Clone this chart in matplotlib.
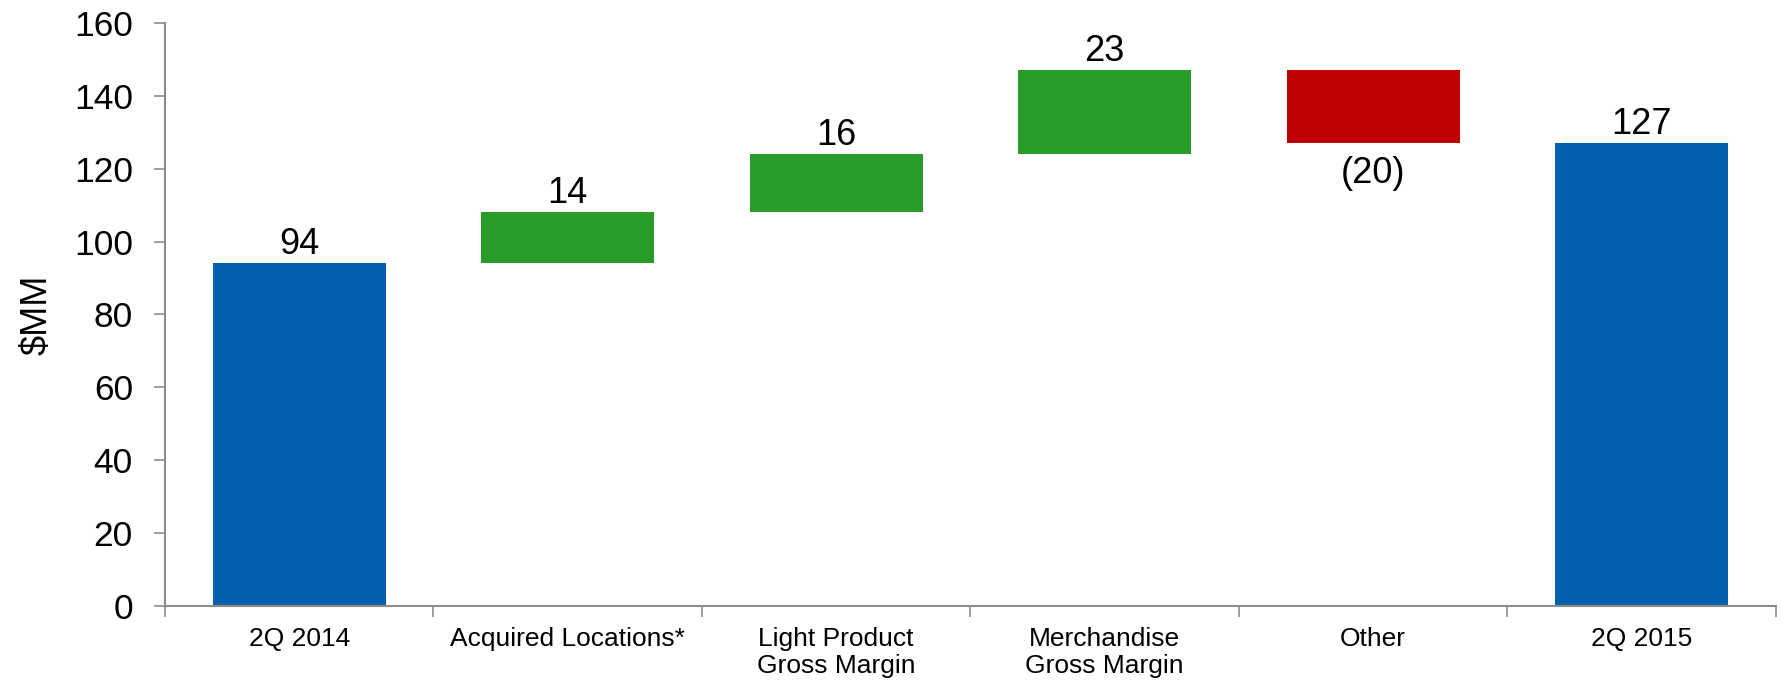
import matplotlib
matplotlib.use("Agg")
import matplotlib.pyplot as plt
import numpy as np

plt.rcParams['font.family'] = ['Liberation Sans', 'DejaVu Sans']

categories = ["2Q 2014", "Acquired Locations*", "Light Product\nGross Margin",
              "Merchandise\nGross Margin", "Other", "2Q 2015"]
values = [94, 14, 16, 23, -20, 127]
kinds = ["total", "delta", "delta", "delta", "delta", "total"]
labels = ["94", "14", "16", "23", "(20)", "127"]

BLUE = "#0060AD"
GREEN = "#299B29"
RED = "#C00000"

fig = plt.figure(figsize=(17.83, 6.85), dpi=100)
ax = fig.add_axes([0.0925, 0.1153, 0.9035, 0.8513])

x = np.arange(len(categories))
running = 0
bottoms, heights, colors = [], [], []
for v, k in zip(values, kinds):
    if k == "total":
        bottoms.append(0); heights.append(v); colors.append(BLUE)
        running = v
    else:
        if v >= 0:
            bottoms.append(running); heights.append(v); colors.append(GREEN)
        else:
            bottoms.append(running + v); heights.append(-v); colors.append(RED)
        running += v

ax.bar(x, heights, bottom=bottoms, width=0.645, color=colors, zorder=2)

for i, (b, h, v, lab) in enumerate(zip(bottoms, heights, values, labels)):
    if v >= 0:
        ax.annotate(lab, (x[i], b + h), xytext=(0, 1), textcoords="offset points",
                    ha="center", va="bottom", fontsize=26)
    else:
        ax.annotate(lab, (x[i], b), xytext=(0, -9), textcoords="offset points",
                    ha="center", va="top", fontsize=26)

ax.set_xlim(-0.5, len(categories) - 0.5)
ax.set_ylim(0, 160)
ax.set_yticks(np.arange(0, 161, 20))
ax.tick_params(axis="y", labelsize=25.5, length=8, width=1.2, color="#8c8c8c", direction="out", pad=15)
ax.set_xticks(x)
ax.set_xticklabels(categories, fontsize=19, linespacing=1.15)
ax.tick_params(axis="x", which="major", length=0, pad=15)
ax.set_xticks(np.arange(-0.5, len(categories), 1.0), minor=True)
ax.tick_params(axis="x", which="minor", length=8, width=1.2, color="#8c8c8c", direction="out")
ax.set_ylabel("$MM", fontsize=26, labelpad=14)

for s in ["top", "right"]:
    ax.spines[s].set_visible(False)
for s in ["left", "bottom"]:
    ax.spines[s].set_color("#8c8c8c")
    ax.spines[s].set_linewidth(1.5)

fig.savefig("out.png", dpi=100)
